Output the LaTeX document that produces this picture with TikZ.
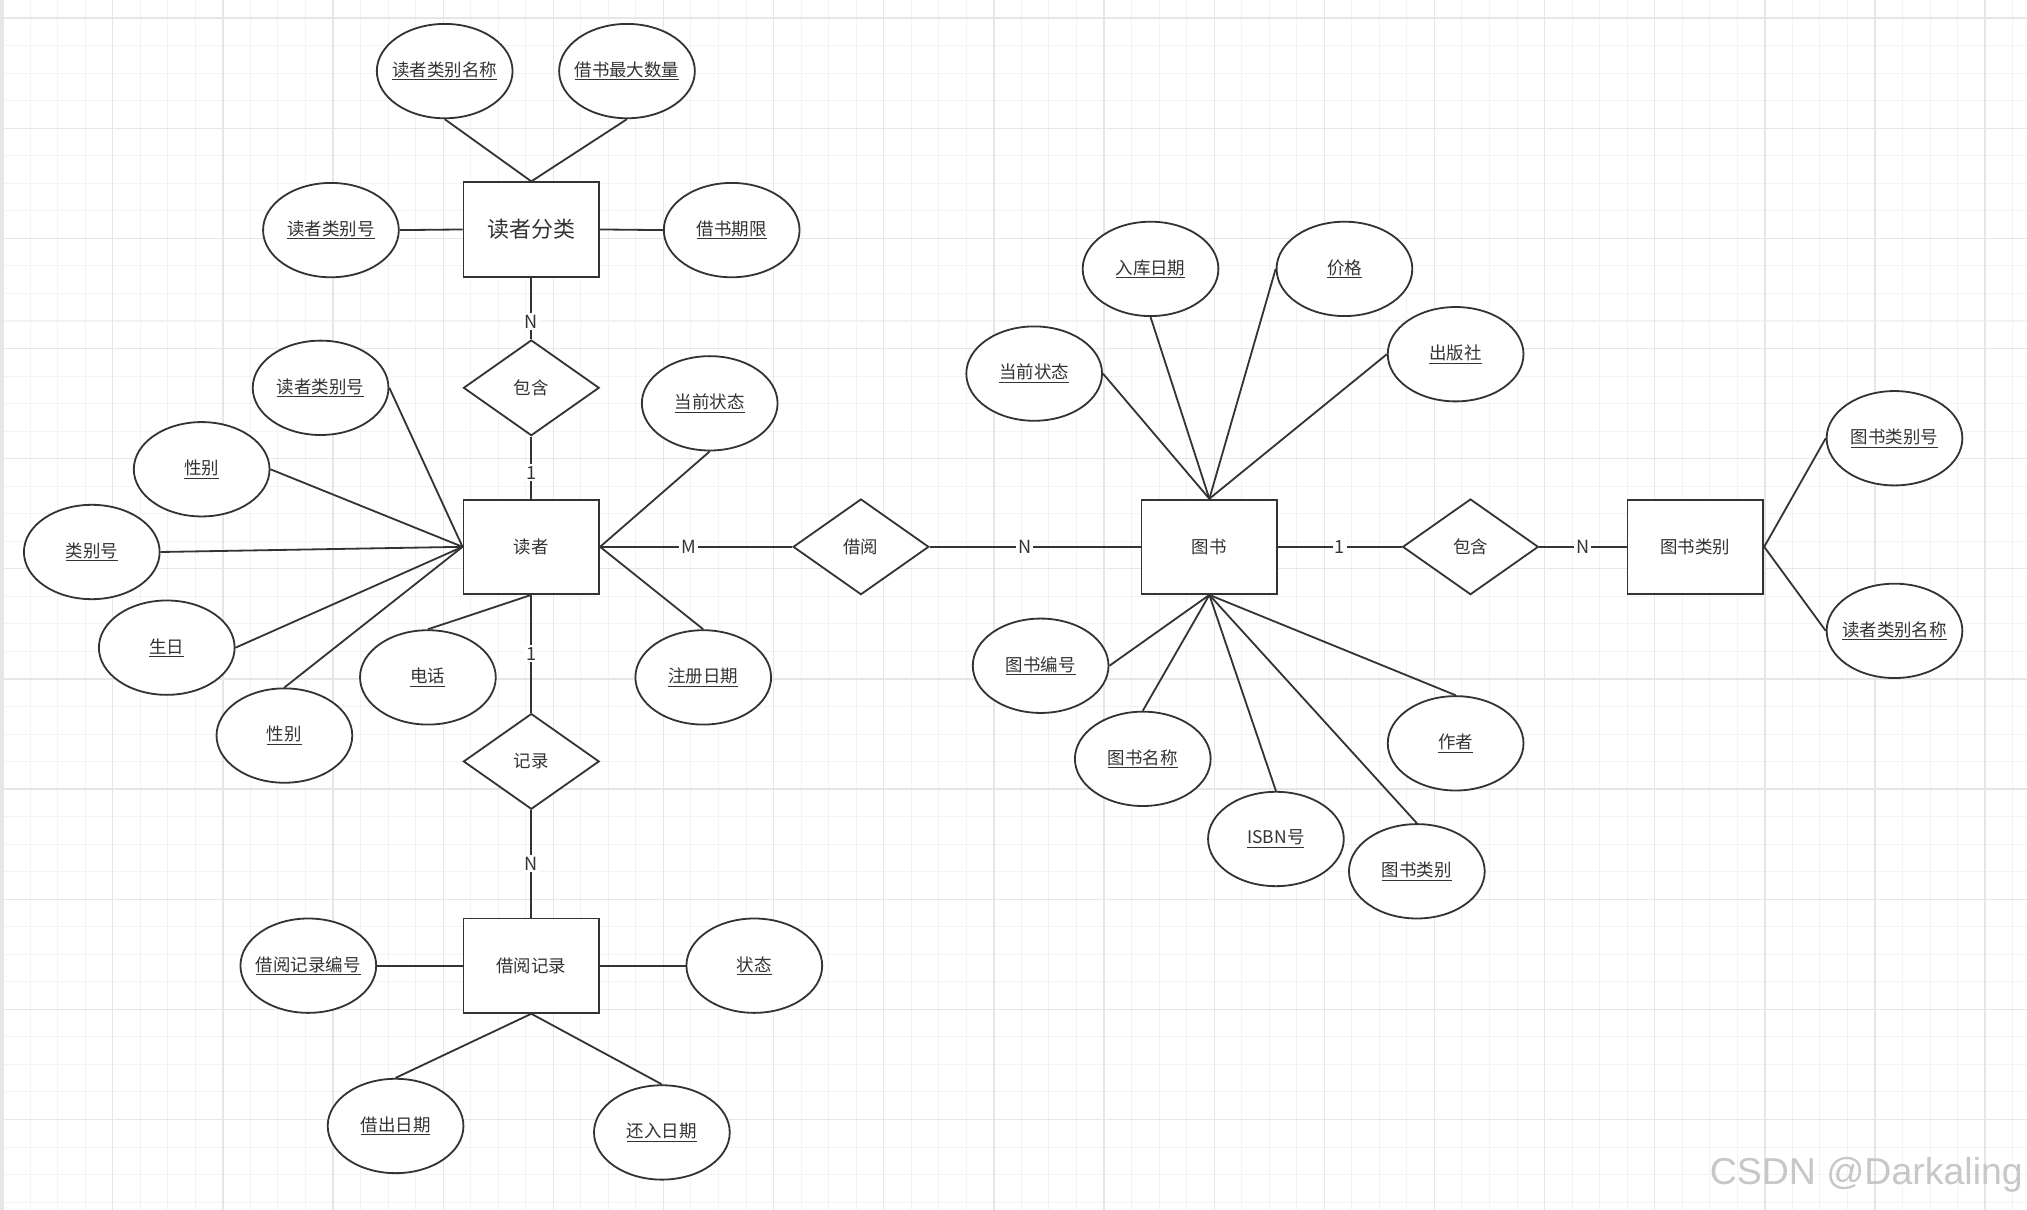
\documentclass[tikz,border=0pt]{standalone}
\usepackage{fontspec}
\newfontfamily\cjk{Noto Sans CJK SC}
\newfontfamily\wmfont{Liberation Sans}
\usetikzlibrary{shapes.geometric}
\definecolor{lc}{HTML}{333333}
\definecolor{tc}{HTML}{333333}
\definecolor{minorg}{HTML}{F3F3F3}
\definecolor{majorg}{HTML}{E6E6E6}
\newcommand{\ulx}[1]{\makebox[0pt][c]{\underline{#1}}}
\tikzset{
  base/.style={draw=lc, line width=1.4pt, fill=white, inner sep=0pt, text=tc},
  ent/.style={base, rectangle, minimum width=105pt, minimum height=73pt, font=\cjk\fontsize{13.5}{16}\selectfont},
  rel/.style={base, diamond, minimum width=105pt, minimum height=74pt, font=\cjk\fontsize{13.5}{16}\selectfont},
  attr/.style={base, ellipse, minimum width=105pt, minimum height=73pt, font=\cjk\fontsize{13.5}{16}\selectfont},
  conn/.style={draw=lc, line width=1.4pt},
  lab/.style={fill=white, inner sep=1.5pt, text=tc, font=\cjk\fontsize{14}{16}\selectfont},
}
\begin{document}
\begin{tikzpicture}[x=1pt,y=-1pt]
\useasboundingbox (0,0) rectangle (1568,936);
\fill[white] (0,0) rectangle (1568,936);
% grid
\foreach \i in {0,...,74} \draw[minorg, line width=0.8pt] ({2+21.3*\i},0) -- ({2+21.3*\i},936);
\foreach \j in {-1,...,44} \draw[minorg, line width=0.8pt] (0,{14+21.3*\j}) -- (1568,{14+21.3*\j});
\foreach \i in {0,...,18} \draw[majorg, line width=1pt] ({2+85.2*\i},0) -- ({2+85.2*\i},936);
\foreach \j in {0,...,10} \draw[majorg, line width=1pt] (0,{14+85.2*\j}) -- (1568,{14+85.2*\j});
\fill[majorg] (0,0) rectangle (3,936);

% ---------- reader category ----------
\node[ent, font=\cjk\fontsize{17}{20}\selectfont] (rc) at (411,177.5) {读者分类};
\node[attr] (rc1) at (344,55) {\ulx{读者类别名称}};
\node[attr] (rc2) at (485,55) {\ulx{借书最大数量}};
\node[attr] (rc3) at (256,178) {\ulx{读者类别号}};
\node[attr] (rc4) at (566,178) {\ulx{借书期限}};

\node[rel] (inc1) at (411,300) {包含};

% ---------- reader ----------
\node[ent] (rd) at (411,423) {读者};
\node[attr] (ra1) at (248,300) {\ulx{读者类别号}};
\node[attr] (ra2) at (156,363) {\ulx{性别}};
\node[attr] (ra3) at (71,427) {\ulx{类别号}};
\node[attr] (ra4) at (129,501) {\ulx{生日}};
\node[attr] (ra5) at (220,569) {\ulx{性别}};
\node[attr] (ra6) at (331,524) {\ulx{电话}};
\node[attr] (ra7) at (549,312) {\ulx{当前状态}};
\node[attr] (ra8) at (544,524) {\ulx{注册日期}};

\node[rel] (bor) at (666,423) {借阅};

% ---------- book ----------
\node[ent] (bk) at (935.5,423) {图书};
\node[attr] (ba1) at (800,289) {\ulx{当前状态}};
\node[attr] (ba2) at (890,208) {\ulx{入库日期}};
\node[attr] (ba3) at (1040,208) {\ulx{价格}};
\node[attr] (ba4) at (1126,274) {\ulx{出版社}};
\node[attr] (ba5) at (805,515) {\ulx{图书编号}};
\node[attr] (ba6) at (884,587) {\ulx{图书名称}};
\node[attr] (ba7) at (987,649) {\ulx{ISBN号}};
\node[attr] (ba8) at (1096,674) {\ulx{图书类别}};
\node[attr] (ba9) at (1126,575) {\ulx{作者}};

\node[rel] (inc2) at (1137.5,423) {包含};

% ---------- book category ----------
\node[ent] (bc) at (1311.5,423) {图书类别};
\node[attr] (bc1) at (1465.5,339) {\ulx{图书类别号}};
\node[attr] (bc2) at (1465.5,488) {\ulx{读者类别名称}};

% ---------- record ----------
\node[rel] (rec) at (411,589) {记录};
\node[ent] (br) at (411,747) {借阅记录};
\node[attr] (br1) at (238.5,747) {\ulx{借阅记录编号}};
\node[attr] (br2) at (583.5,747) {\ulx{状态}};
\node[attr] (br3) at (306,871) {\ulx{借出日期}};
\node[attr] (br4) at (512,876) {\ulx{还入日期}};

% ---------- connectors ----------
\draw[conn] (rc1.south) -- (rc.north);
\draw[conn] (rc2.south) -- (rc.north);
\draw[conn] (rc3.east) -- (rc.west);
\draw[conn] (rc4.west) -- (rc.east);
\draw[conn] (rc.south) -- node[lab, pos=0.72]{N} (inc1.north);
\draw[conn] (inc1.south) -- node[lab, pos=0.58]{1} (rd.north);

\draw[conn] (ra1.east) -- (rd.west);
\draw[conn] (ra2.east) -- (rd.west);
\draw[conn] (ra3.east) -- (rd.west);
\draw[conn] (ra4.east) -- (rd.west);
\draw[conn] (ra5.north) -- (rd.west);
\draw[conn] (ra6.north) -- (rd.south);
\draw[conn] (ra7.south) -- (rd.east);
\draw[conn] (ra8.north) -- (rd.east);

\draw[conn] (rd.east) -- node[lab, pos=0.46]{M} (bor.west);
\draw[conn] (bor.east) -- node[lab, pos=0.45]{N} (bk.west);

\draw[conn] (ba1.east) -- (bk.north);
\draw[conn] (ba2.south) -- (bk.north);
\draw[conn] (ba3.west) -- (bk.north);
\draw[conn] (ba4.west) -- (bk.north);
\draw[conn] (ba5.east) -- (bk.south);
\draw[conn] (ba6.north) -- (bk.south);
\draw[conn] (ba7.north) -- (bk.south);
\draw[conn] (ba8.north) -- (bk.south);
\draw[conn] (ba9.north) -- (bk.south);

\draw[conn] (bk.east) -- node[lab, pos=0.5]{1} (inc2.west);
\draw[conn] (inc2.east) -- node[lab, pos=0.5]{N} (bc.west);
\draw[conn] (bc.east) -- (bc1.west);
\draw[conn] (bc.east) -- (bc2.west);

\draw[conn] (rd.south) -- node[lab, pos=0.5]{1} (rec.north);
\draw[conn] (rec.south) -- node[lab, pos=0.5]{N} (br.north);
\draw[conn] (br1.east) -- (br.west);
\draw[conn] (br2.west) -- (br.east);
\draw[conn] (br3.north) -- (br.south);
\draw[conn] (br4.north) -- (br.south);

% watermark
\node[text=black!22, font=\wmfont\fontsize{29}{33}\selectfont, anchor=east, inner sep=0pt] (wm) at (1565,909) {CSDN @Darkaling};
\end{tikzpicture}
\end{document}
